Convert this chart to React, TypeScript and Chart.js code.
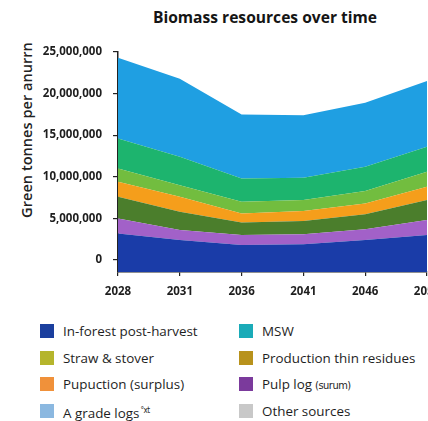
import React, { useEffect, useRef } from "react";
import { Chart, registerables } from "chart.js";

Chart.register(...registerables);

// ---- Data (green tonnes per annum) ----
const years = ["2028", "2031", "2036", "2041", "2046", "2051"];

const inForestPostHarvest = [3200000, 2400000, 1800000, 1900000, 2400000, 3000000];
const pulpLog = [1800000, 1200000, 1200000, 1200000, 1300000, 1800000];
const productionThinResidues = [2600000, 2200000, 1500000, 1600000, 1800000, 2400000];
const productionSurplus = [1800000, 1800000, 1100000, 1200000, 1300000, 1600000];
const strawStover = [1600000, 1400000, 1400000, 1300000, 1500000, 1800000];
const msw = [3600000, 3400000, 2800000, 2700000, 2900000, 3000000];
const aGradeLogs = [9700000, 9400000, 7700000, 7500000, 7700000, 7900000];

const yTickValues = [0, 5000000, 10000000, 15000000, 20000000, 25000000];

const seriesNames = [
  "In-forest post-harvest",
  "Pulp log",
  "Production thin residues",
  "Production (surplus)",
  "Straw & stover",
  "MSW",
  "A grade logs",
];
const seriesValues = [
  inForestPostHarvest,
  pulpLog,
  productionThinResidues,
  productionSurplus,
  strawStover,
  msw,
  aGradeLogs,
];
const areaColors = ["#1a3ca8", "#a261c8", "#4b7e2c", "#f59e1b", "#72bd3f", "#1db46e", "#1f9fe2"];

// legend (row-wise, two columns), as printed in the reference
const legendLabels = [
  "In-forest post-harvest",
  "MSW",
  "Straw & stover",
  "Production thin residues",
  "Pupuction (surplus)",
  "Pulp log",
  "A grade logs",
  "Other sources",
];
const legendSuffixes = ["", "", "", "", "", "(surum)", "°xt", ""];
const legendColors = ["#1b3f9e", "#1aabb8", "#b5b52c", "#b8921c", "#f0913a", "#7b3a9c", "#8bb8e0", "#c8c8c8"];

const FONT = "'Open Sans', 'DejaVu Sans', sans-serif";

export default function App() {
  const canvasRef = useRef<HTMLCanvasElement | null>(null);

  useEffect(() => {
    const canvas = canvasRef.current;
    if (!canvas) return;
    const chart = new Chart(canvas, {
      type: "line",
      data: {
        labels: years,
        datasets: seriesValues.map((vals, i) => ({
          label: seriesNames[i],
          data: vals,
          backgroundColor: areaColors[i],
          borderColor: areaColors[i],
          borderWidth: 0,
          pointRadius: 0,
          tension: 0,
          fill: i === 0 ? "start" : "-1",
        })),
      },
      options: {
        responsive: false,
        animation: false,
        layout: { padding: { top: 52, right: 23, left: 0, bottom: 0 } },
        plugins: {
          legend: { display: false },
          title: { display: false },
          tooltip: { enabled: false },
        },
        scales: {
          x: {
            offset: false,
            grid: { drawOnChartArea: false, drawTicks: true, tickLength: 4, tickColor: "#222", lineWidth: 1.2 },
            border: { color: "#222", width: 1.5 },
            ticks: {
              padding: 9,
              color: "#1e1e1e",
              maxRotation: 0,
              autoSkip: false,
              font: { family: FONT, size: 11.5, weight: "bold" },
            },
            afterFit: (s: any) => {
              s.height = 38;
            },
          },
          y: {
            stacked: true,
            min: -1440000,
            max: 25000000,
            grid: { drawOnChartArea: false, drawTicks: true, tickLength: 5, tickColor: "#222", lineWidth: 1.2 },
            border: { color: "#222", width: 1.5 },
            ticks: {
              padding: 11,
              color: "#1e1e1e",
              font: { family: FONT, size: 11.5, weight: "bold" },
              callback: (v: any) => Number(v).toLocaleString("en-US"),
            },
            afterBuildTicks: (s: any) => {
              s.ticks = yTickValues.map((v) => ({ value: v }));
            },
            afterFit: (s: any) => {
              s.width = 118;
            },
          },
        },
      },
    });
    return () => chart.destroy();
  }, []);

  const rowTops = [324, 350.5, 377, 403.5];
  const colSwatchX = [40, 239];
  const colTextX = [63, 262];

  return (
    <div
      style={{
        position: "absolute",
        left: 0,
        top: 0,
        width: 428,
        height: 421,
        overflow: "hidden",
        background: "#ffffff",
        fontFamily: FONT,
      }}
    >
      <div
        style={{
          position: "absolute",
          left: 0,
          top: 7,
          width: 530,
          textAlign: "center",
          fontSize: 15.6,
          fontWeight: 700,
          lineHeight: "20px",
          color: "#151515",
          whiteSpace: "nowrap",
        }}
      >
        Biomass resources over time
      </div>
      <div
        style={{
          position: "absolute",
          left: 26,
          top: 130,
          transform: "translate(-50%, -50%) rotate(-90deg)",
          fontSize: 14.6,
          fontWeight: 600,
          color: "#222",
          whiteSpace: "nowrap",
          lineHeight: "16px",
        }}
      >
        Green tonnes per anurrn
      </div>
      <canvas
        ref={canvasRef}
        width={450}
        height={310}
        style={{ position: "absolute", left: 0, top: 0, width: 450, height: 310 }}
      />
      {legendLabels.map((lab, i) => {
        const row = Math.floor(i / 2);
        const col = i % 2;
        return (
          <React.Fragment key={lab}>
            <div
              style={{
                position: "absolute",
                left: colSwatchX[col],
                top: rowTops[row],
                width: 14,
                height: 14,
                background: legendColors[i],
              }}
            />
            <div
              style={{
                position: "absolute",
                left: colTextX[col],
                top: rowTops[row] + 7 - 9,
                height: 18,
                lineHeight: "18px",
                fontSize: 13.4,
                fontWeight: 500,
                color: "#1e1e1e",
                whiteSpace: "nowrap",
              }}
            >
              {lab}
              {legendSuffixes[i] ? (
                <span
                  style={{
                    fontSize: i === 6 ? 8 : 11,
                    verticalAlign: i === 6 ? "super" : "baseline",
                    fontFamily: "'DejaVu Sans Condensed', 'Liberation Sans Narrow', sans-serif",
                    marginLeft: i === 6 ? 1 : 3,
                    letterSpacing: -0.5,
                  }}
                >
                  {legendSuffixes[i]}
                </span>
              ) : null}
            </div>
          </React.Fragment>
        );
      })}
    </div>
  );
}
